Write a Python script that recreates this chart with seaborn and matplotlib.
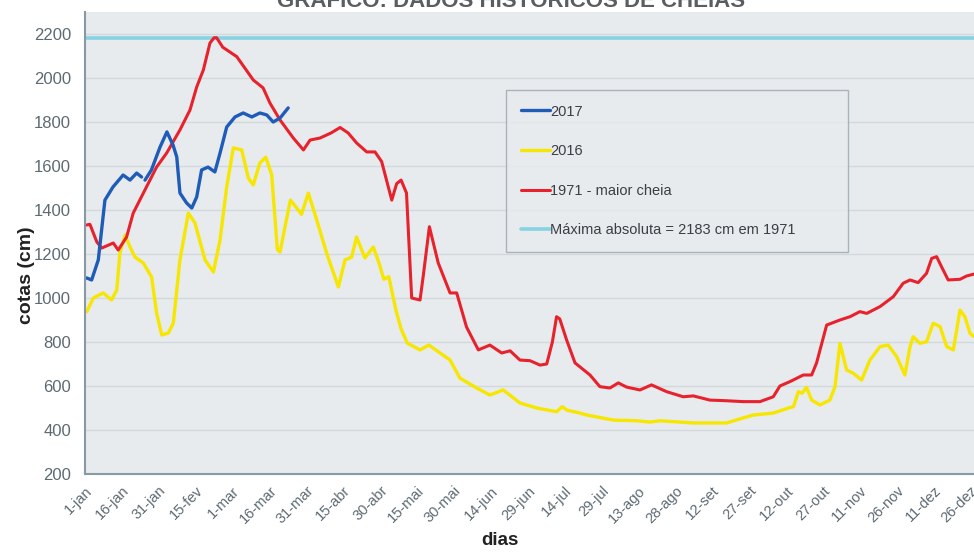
import matplotlib
matplotlib.use("Agg")
import matplotlib.pyplot as plt
from matplotlib.ticker import MultipleLocator
import seaborn as sns
import pandas as pd

# dias contados a partir de 1-jan (0 = 1-jan)
dias_2017_a = [0.7, 2.7, 5.4, 8.1, 11.4, 15.5, 18.3, 21, 23]
cotas_2017_a = [1091, 1082, 1173, 1445, 1505, 1559, 1536, 1568, 1550]
dias_2017_b = [24.4, 27, 30.5, 33.3, 35.8, 37.3, 38.6, 41.3, 43.4, 45.4, 47.4, 50, 52.8,
               54.9, 57.6, 61, 64.3, 67.8, 71.1, 73.9, 76.5, 79.3, 82.6]
cotas_2017_b = [1536, 1582, 1686, 1755, 1695, 1641, 1477, 1432, 1409, 1459, 1582, 1595, 1573,
                1659, 1777, 1823, 1841, 1823, 1841, 1832, 1800, 1818, 1864]

dias_2016 = [0.7, 3.4, 7.4, 10.8, 12.9, 14.2, 16.3, 18.3, 20.3, 23.7, 27.1, 29.1, 31.2, 33.9,
             35.9, 38.6, 42, 44.7, 48.8, 52.2, 54.9, 57.6, 60.3, 63.7, 66.4, 68.4, 71.1, 73.5,
             75.9, 78.2, 79.3, 81.3, 83.5, 86, 88, 90.8, 94.2, 98.2, 103, 105.7, 108.4, 110.4,
             113.8, 117.2, 119.5, 121.5, 123.5, 126.5, 128.5, 131, 136.2, 139.8, 148.4, 152.4,
             159.2, 164.6, 170, 176.8, 183.6, 191.7, 194, 196, 201.2, 204, 214.8, 224.3, 229.7,
             233.7, 247.3, 260.8, 267.6, 271.7, 279.8, 286, 288, 290, 291.5, 293.3, 295.4,
             298.8, 302.8, 304.9, 306.9, 309.6, 312.3, 315.7, 319.1, 323.2, 326.5, 330, 333.3,
             335.4, 336.7, 339.4, 342.1, 344.8, 347.6, 350.3, 353, 355.7, 357.7, 359.8, 361.5]
cotas_2016 = [938, 1000, 1023, 991, 1036, 1205, 1286, 1232, 1186, 1159, 1095, 932, 832, 841,
              886, 1173, 1386, 1341, 1173, 1118, 1264, 1505, 1682, 1673, 1545, 1514, 1614, 1640,
              1560, 1220, 1209, 1323, 1445, 1410, 1380, 1477, 1355, 1205, 1050, 1173, 1186, 1277,
              1182, 1232, 1160, 1085, 1097, 940, 860, 795, 764, 786, 718, 636,
              591, 559, 582, 523, 500, 483, 506, 490, 477, 468, 445, 442, 436,
              442, 432, 432, 455, 468, 477, 500, 506, 574, 567, 594, 536,
              514, 536, 597, 794, 673, 658, 627, 718, 779, 786, 733, 650,
              779, 824, 794, 801, 885, 870, 779, 764, 945, 915, 839, 824]

dias_1971 = [0.7, 2, 4.8, 6.8, 11.5, 13.5, 16.9, 19.6, 25, 29.1, 33.2, 38.6, 42.7, 45.4, 48.1,
             50.8, 52.5, 53.5, 56, 61.7, 68.4, 72.4, 75.2, 79.3, 84.7, 88.8, 91.5, 95.5, 100,
             103.7, 107, 110.4, 114.5, 117.9, 120.6, 124.7, 126.7, 128.5, 130.7, 132.8, 136.2,
             137.5, 140, 143.6, 148.4, 151.1, 155.1, 159.9, 164.6, 169.4, 172.8, 176.8, 180.9,
             185, 187.7, 190, 191.7, 193, 195.8, 199.2, 205.3, 209.3, 213.4, 216.8, 220.2,
             225.6, 230.3, 236.5, 243.2, 247.3, 254, 260.8, 267.6, 274.4, 279.8, 282.5, 286.6,
             292, 295.4, 297.4, 301.5, 306.9, 311, 315, 317.8, 323.2, 328.6, 332.6, 335.4,
             338.7, 342.1, 344.2, 346.2, 348.2, 350.9, 355.7, 358.4, 361.5]
cotas_1971 = [1332, 1335, 1255, 1227, 1250, 1218, 1277, 1386, 1505, 1595, 1659, 1764, 1855, 1959,
              2036, 2159, 2183, 2183, 2140, 2097, 1991, 1955, 1886, 1809, 1727, 1673, 1718, 1727,
              1750, 1775, 1750, 1705, 1664, 1664, 1620, 1445, 1520, 1536, 1477, 1000, 991,
              1100, 1324, 1159, 1023, 1023, 868, 764, 786, 750, 760, 718, 715,
              695, 700, 800, 915, 905, 809, 705, 650, 597, 591, 614, 595,
              582, 605, 574, 551, 555, 536, 533, 529, 529, 551, 600, 620,
              650, 650, 705, 877, 900, 915, 938, 930, 961, 1006, 1067, 1082,
              1070, 1112, 1180, 1188, 1142, 1082, 1085, 1100, 1109]

maxima_absoluta = 2183

tick_dias = list(range(0, 361, 15))
tick_labels = ["1-jan", "16-jan", "31-jan", "15-fev", "1-mar", "16-mar", "31-mar", "15-abr",
               "30-abr", "15-mai", "30-mai", "14-jun", "29-jun", "14-jul", "29-jul", "13-ago",
               "28-ago", "12-set", "27-set", "12-out", "27-out", "11-nov", "26-nov", "11-dez",
               "26-dez"]

sns.set_style("white", {"axes.facecolor": "#e7ebee", "axes.edgecolor": "#8799a5"})
plt.rcParams["font.family"] = ["Liberation Sans", "DejaVu Sans"]

fig = plt.figure(figsize=(9.74, 5.54), dpi=100, facecolor="white")
ax = fig.add_axes([85 / 974, 1 - 474 / 554, 1 - 85 / 974, 462 / 554])

ax.yaxis.grid(True, color="#d2d8dc", lw=1.0)
ax.set_axisbelow(True)

ax.axhline(maxima_absoluta, color="#86d3e2", lw=2.6, zorder=2,
           label="Máxima absoluta = 2183 cm em 1971")

df_2016 = pd.DataFrame({"dia": dias_2016, "cota": cotas_2016})
df_1971 = pd.DataFrame({"dia": dias_1971, "cota": cotas_1971})
df_2017a = pd.DataFrame({"dia": dias_2017_a, "cota": cotas_2017_a})
df_2017b = pd.DataFrame({"dia": dias_2017_b, "cota": cotas_2017_b})

sns.lineplot(data=df_2016, x="dia", y="cota", ax=ax, color="#f7e600", lw=2.4, label="2016",
             sort=False, estimator=None)
sns.lineplot(data=df_1971, x="dia", y="cota", ax=ax, color="#e8222c", lw=2.2,
             label="1971 - maior cheia", sort=False, estimator=None)
sns.lineplot(data=df_2017a, x="dia", y="cota", ax=ax, color="#1f5cb8", lw=2.4, label="2017",
             sort=False, estimator=None)
sns.lineplot(data=df_2017b, x="dia", y="cota", ax=ax, color="#1f5cb8", lw=2.4,
             sort=False, estimator=None)

ax.set_xlim(0, 361.4)
ax.set_ylim(200, 2300)
ax.set_yticks(range(200, 2201, 200))
ax.yaxis.set_minor_locator(MultipleLocator(100))
ax.set_xticks(tick_dias)
ax.set_xticklabels(tick_labels, rotation=45, ha="right", rotation_mode="anchor")
ax.xaxis.set_minor_locator(MultipleLocator(7.5))
ax.tick_params(axis="both", which="both", direction="out", color="#8799a5",
               labelcolor="#5d6a72")
ax.tick_params(axis="y", which="major", length=4, labelsize=12, pad=6)
ax.tick_params(axis="y", which="minor", length=3)
ax.tick_params(axis="x", which="major", length=4, labelsize=10.5, pad=3)
ax.tick_params(axis="x", which="minor", length=3)
for side in ["top", "right"]:
    ax.spines[side].set_visible(False)
for side in ["left", "bottom"]:
    ax.spines[side].set_linewidth(1.5)

ax.set_xlabel("dias", fontsize=13.5, fontweight="bold", color="#222222")
ax.set_ylabel("cotas (cm)", fontsize=14, fontweight="bold", color="#222222")
ax.xaxis.set_label_coords(0.467, -0.125)
ax.yaxis.set_label_coords(-0.056, 0.43)

handles, labels = ax.get_legend_handles_labels()
order = ["2017", "2016", "1971 - maior cheia", "Máxima absoluta = 2183 cm em 1971"]
hmap = dict(zip(labels, handles))
leg = ax.legend([hmap[k] for k in order], order, loc="upper left",
                bbox_to_anchor=(421 / 889, (474 - 90) / 462, 342 / 889, 0), mode="expand",
                frameon=True, fancybox=False, fontsize=10.5, handlelength=2.0,
                handletextpad=0.05, labelspacing=1.75, borderpad=1.0, borderaxespad=0)
leg.get_frame().set_edgecolor("#9aa6ad")
leg.get_frame().set_linewidth(1.0)
for t in leg.get_texts():
    t.set_color("#3a3f44")

fig.text(0.525, 0.997, "GRÁFICO: DADOS HISTÓRICOS DE CHEIAS", ha="center", va="center",
         fontsize=16, fontweight="bold", color="#5a5e62")

fig.savefig("out.png", dpi=100, facecolor="white")
